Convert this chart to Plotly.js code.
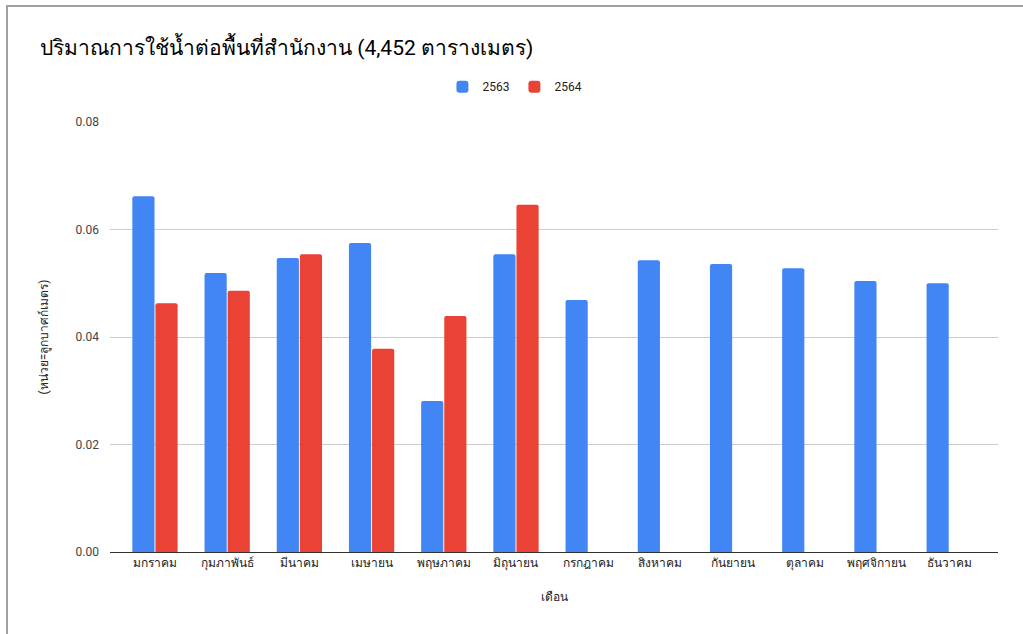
<!DOCTYPE html>
<html>
<head>
<meta charset="utf-8">
<script src="https://cdn.plot.ly/plotly-3.0.1.min.js"></script>
<style>
  html, body { margin: 0; padding: 0; background: #fff; }
  #wrap { position: relative; width: 1023px; height: 634px; overflow: hidden; }
  #chart { position: absolute; left: 0; top: 0; width: 1023px; height: 634px; }
  #frame { position: absolute; left: 6px; top: 5px; width: 1100px; height: 700px;
           border-top: 2px solid #a0a0a0; border-left: 2px solid #a0a0a0; pointer-events: none; }
</style>
</head>
<body>
<div id="wrap">
  <div id="chart"></div>
  <div id="frame"></div>
</div>
<script>
const months = ["มกราคม","กุมภาพันธ์","มีนาคม","เมษายน","พฤษภาคม","มิถุนายน","กรกฎาคม","สิงหาคม","กันยายน","ตุลาคม","พฤศจิกายน","ธันวาคม"];
const series2563 = [0.0662, 0.0519, 0.0547, 0.0575, 0.0281, 0.0554, 0.0469, 0.0543, 0.0536, 0.0528, 0.0504, 0.0500];
const series2564 = [0.0463, 0.0486, 0.0554, 0.0378, 0.0439, 0.0646, null, null, null, null, null, null];
const yTicks = [0, 0.02, 0.04, 0.06, 0.08];
const yTickLabels = ["0.00", "0.02", "0.04", "0.06", "0.08"];

const font = "Roboto, Arial, 'Noto Sans', sans-serif";

const traces = [
  { type: "bar", name: "2563", x: months, y: series2563,
    marker: { color: "#4285F4", cornerradius: 2 }, hoverinfo: "x+y" },
  { type: "bar", name: "2564", x: months, y: series2564,
    marker: { color: "#EA4335", cornerradius: 2 }, hoverinfo: "x+y" }
];

const layout = {
  width: 1023, height: 634,
  margin: { l: 110, r: 25, t: 122, b: 82 },
  paper_bgcolor: "#fff", plot_bgcolor: "#fff",
  font: { family: font, size: 12, color: "#222" },
  title: { text: "ปริมาณการใช้น้ำต่อพื้นที่สำนักงาน (4,452 ตารางเมตร)",
           x: 0, xref: "paper", xanchor: "left", y: 0.925, yref: "container", yanchor: "middle",
           pad: { l: -70 },
           font: { family: font, size: 21, color: "#000" } },
  barmode: "group",
  bargap: 0.36,
  bargroupgap: 0.04,
  showlegend: true,
  legend: { orientation: "h", x: 0.456, xanchor: "center", y: 1.082, yanchor: "middle",
            font: { family: font, size: 12, color: "#222" }, itemwidth: 30, traceorder: "normal" },
  xaxis: {
    type: "category",
    range: [-0.623, 11.676],
    showgrid: false, zeroline: false, showline: true, linecolor: "#333", linewidth: 1,
    ticks: "", tickfont: { family: font, size: 12, color: "#222" },
    title: { text: "เดือน", standoff: 22, font: { family: font, size: 12, color: "#222" } },
    fixedrange: true
  },
  yaxis: {
    range: [0, 0.08],
    tickvals: yTicks, ticktext: yTickLabels,
    showgrid: true, gridcolor: "#cccccc", gridwidth: 1,
    zeroline: false, showline: false, ticks: "",
    ticklabelstandoff: 10,
    tickfont: { family: font, size: 12, color: "#444" },
    title: { text: "(หน่วย=ลูกบาศก์เมตร)", standoff: 24, font: { family: font, size: 12, color: "#222" } },
    fixedrange: true
  }
};

Plotly.newPlot("chart", traces, layout, { displayModeBar: false, staticPlot: true });
</script>
</body>
</html>
